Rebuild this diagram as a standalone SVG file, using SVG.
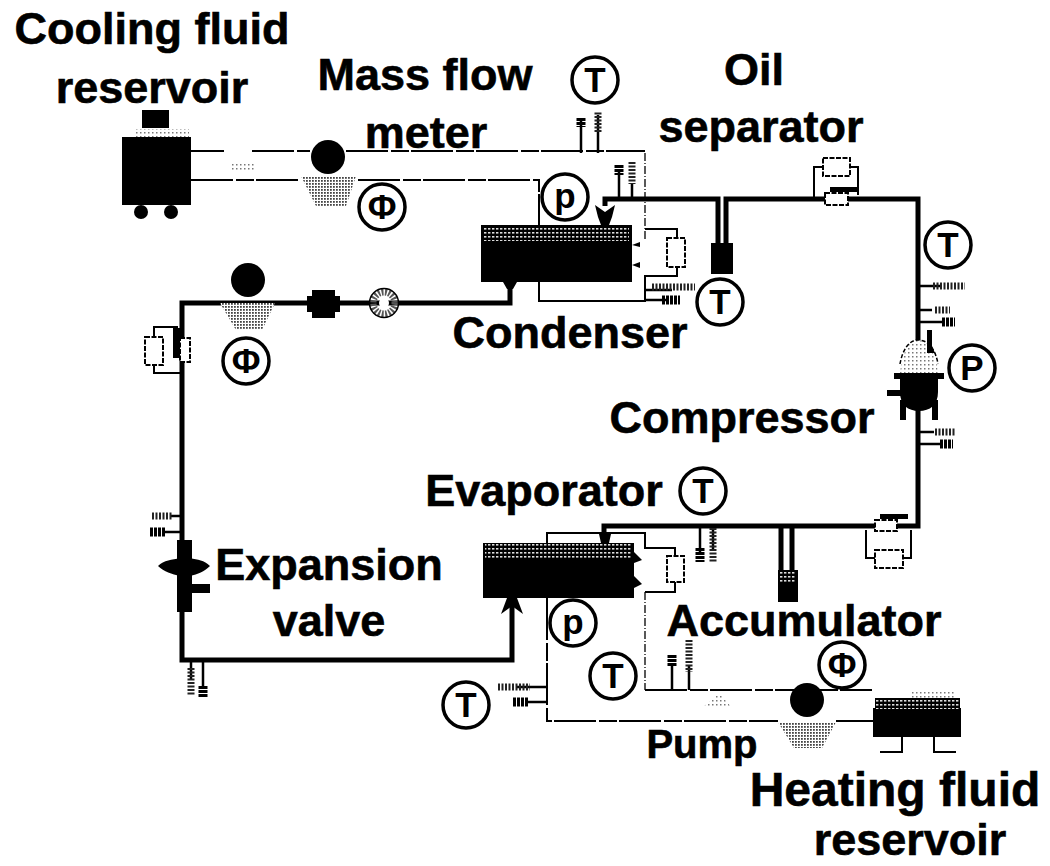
<svg xmlns="http://www.w3.org/2000/svg" width="1050" height="866" viewBox="0 0 1050 866">
<style>
text{font-family:"Liberation Sans",Arial,sans-serif;font-weight:bold;fill:#000;text-anchor:middle}
.l{font-size:45px;stroke:#000;stroke-width:.6px}
.g{font-size:35px}
.r{fill:#fff;stroke:#000;stroke-width:3.5}
.k{fill:#000}
.h{fill:url(#dots)}
.thick{fill:none;stroke:#000;stroke-width:5}
.thin{fill:none;stroke:#000;stroke-width:2}
.dash{fill:none;stroke:#000;stroke-width:2;stroke-dasharray:42 3 18 2}
.faint{fill:none;stroke:#000;stroke-width:1.3;stroke-dasharray:8 2 1 2}
.sd{fill:none;stroke:#222;stroke-width:7;stroke-dasharray:2 1.5}
.bl{fill:none;stroke:#000;stroke-width:9;stroke-dasharray:3 1}
.box{fill:#fff;stroke:#000;stroke-width:2;stroke-dasharray:5 1.5}
.sen{stroke:#000;stroke-width:2.5;fill:none}
</style>
<defs>
<pattern id="dots" width="3" height="3" patternUnits="userSpaceOnUse"><rect width="3" height="3" fill="#fff"/><rect width="1.8" height="1.8" fill="#444"/></pattern>
<pattern id="dots2" width="4" height="4" patternUnits="userSpaceOnUse"><rect width="4" height="4" fill="#fff"/><rect width="1.5" height="1.5" fill="#777"/></pattern>
<pattern id="top" width="4" height="4" patternUnits="userSpaceOnUse"><rect width="4" height="4" fill="#000"/><rect width="2.4" height="1.6" fill="#ddd"/></pattern>
</defs>
<g id="connectors">
<path class="dash" d="M191 151H224M252 151H310M346 151H645"/>
<path class="dash" d="M191 180H300M358 180H539V225"/>
<path class="faint" d="M645 153V240"/>
<path class="thin" d="M645 229H677V238M677 267V276H645V301H539V282"/>
<path class="thick" d="M605 206V199H718V243M726 243V199H918V340M918 410V526H604V536"/>
<path class="thick" d="M510 283V303H182V660H512V604"/>
<path class="thin" d="M547 543V533H645V548H675V556M675 582V592H645"/>
<path class="faint" d="M645 592V690"/>
<path class="dash" d="M645 690H872"/>
<path class="dash" d="M547 598V721H778M836 721H875"/>
<path class="thin" d="M154 337V327H178M154 365V373H184"/>
<path class="thin" d="M823 167H814V198M850 167H858V195"/>
<path class="thin" d="M866 530V558H875M903 558H911V530"/>
<path class="thick" d="M781 526V572M792 526V572"/>
<g id="sensors">
<path class="sen" d="M581 153V118M598 153V115M619 198V172M632 198V184M645 290H672M645 300H668M919 286H940M919 310H932M919 322H942M919 432H934M919 444H940M183 516H170M183 532H165M191 662V680M203 662V688M700 526V552M713 526V550M672 690V665M689 690V665M547 687H516M547 702H525"/>
<path class="sd" d="M598 132V112M632 162V184M652 287H695M933 286H965M935 310H950M935 432H955M152 516H172M191 668V695M713 528V562M689 640V672M498 687H530"/>
<path class="bl" d="M581 118V127M619 165V175M662 300H680M942 322H955M940 444H953M150 532H165M203 686V697M700 548V562M672 655V667M513 702H528"/>
</g>
</g>
<g id="cooling-reservoir">
<rect class="k" x="122" y="137" width="69" height="68"/><rect class="k" x="142" y="110" width="27" height="18"/>
<rect fill="url(#dots2)" x="136" y="129" width="53" height="8"/>
<circle class="k" cx="141" cy="212" r="7"/><circle class="k" cx="171" cy="212" r="7"/>
</g>
<g id="cooling-pump"><path class="h" d="M301 176H356L346 206H316Z"/><circle class="k" cx="328" cy="157" r="17"/></g>
<path id="fade-top" fill="url(#dots2)" d="M232 163H256V170H232Z"/>
<g id="phi1"><circle class="r" cx="382" cy="207" r="23"/><text class="g" x="382" y="219">Φ</text></g>
<g id="t1"><circle class="r" cx="595" cy="80" r="23"/><text class="g" x="595" y="92">T</text></g>
<g id="p1"><circle class="r" cx="565" cy="197" r="23"/><text class="g" x="565" y="208">p</text></g>
<g id="condenser">
<rect class="k" x="481" y="225" width="151" height="57"/>
<rect fill="url(#top)" x="484" y="226" width="145" height="15"/>
<path class="k" d="M595 205L605 212L615 205L612 217L609 225H601L598 217Z"/>
<path class="k" d="M632 245l8-3v5zM632 265l8 3v-6zM503 282h14l-4 7h-6z"/>
<rect class="box" x="667" y="238" width="18" height="29"/>
</g>
<g id="separator"><rect class="k" x="711" y="243" width="22" height="31"/></g>
<g id="t2"><circle class="r" cx="720" cy="302" r="23"/><text class="g" x="720" y="314">T</text></g>
<g id="oil-valve">
<rect class="k" x="830" y="187" width="28" height="5"/>
<rect class="box" x="825" y="193" width="23" height="12"/>
<rect class="box" x="823" y="158" width="27" height="18"/>
</g>
<g id="t3"><circle class="r" cx="948" cy="245" r="23"/><text class="g" x="948" y="257">T</text></g>
<g id="p2"><circle class="r" cx="972" cy="368" r="23"/><text class="g" x="972" y="380">P</text></g>
<g id="compressor">
<path fill="url(#dots2)" d="M900 373C902 355 908 340 918 340C930 340 936 355 938 373Z"/>
<path fill="none" stroke="#000" stroke-width="1.5" stroke-dasharray="4 2" d="M900 364C902 352 908 340 918 340C930 340 936 352 938 364"/>
<path class="k" d="M894 373H944V379H938V392C938 405 930 411 919 411C908 411 900 405 900 392V379H894Z"/>
<rect class="k" x="887" y="390" width="16" height="6"/><rect class="k" x="900" y="400" width="6" height="20"/><rect class="k" x="932" y="400" width="6" height="20"/>
<path class="k" d="M927 330h5v16l3 7h-8z"/>
</g>
<g id="pump-left"><path class="h" d="M220 303H275L262 330H236Z"/><circle class="k" cx="248" cy="280" r="17"/></g>
<g id="phi2"><circle class="r" cx="246" cy="361" r="23"/><text class="g" x="246" y="373">Φ</text></g>
<g id="filter"><path class="k" d="M312 290H335V296H340V312H335V318H312V312H307V296H312Z"/></g>
<g id="sight-glass"><circle cx="384" cy="303" r="11" fill="none" stroke="#555" stroke-width="7" stroke-dasharray="2 1.5"/><circle cx="384" cy="303" r="14.5" fill="none" stroke="#000" stroke-width="1.5"/><circle cx="384" cy="303" r="5" fill="#fff"/></g>
<g id="left-valve">
<rect class="k" x="173" y="328" width="8" height="30"/>
<rect class="box" x="180" y="338" width="10" height="24"/>
<rect class="box" x="145" y="337" width="18" height="28"/>
</g>
<g id="expansion-valve">
<rect class="k" x="177" y="540" width="15" height="72"/>
<path class="k" d="M158 566C164 560 172 560 180 558H190C198 560 204 560 210 566C204 572 198 574 190 576H180C172 574 164 572 158 566Z"/>
<path class="k" d="M190 584H210V593H190Z"/>
</g>
<g id="evaporator">
<rect class="k" x="483" y="543" width="151" height="55"/>
<rect fill="url(#top)" x="485" y="544" width="146" height="15"/>
<path class="k" d="M599 534h12l-2 9h-8zM507 598h10l6 16-11-8-11 8zM634 552l8 8-8 3zM634 576l8 8-8 4z"/>
<rect class="box" x="667" y="556" width="17" height="26"/>
</g>
<g id="suction-valve">
<rect class="k" x="880" y="514" width="28" height="5"/>
<rect class="box" x="875" y="520" width="22" height="11"/>
<rect class="box" x="875" y="550" width="28" height="18"/>
</g>
<g id="accumulator"><rect class="k" x="778" y="570" width="20" height="32"/><rect fill="url(#top)" x="780" y="572" width="16" height="12"/></g>
<g id="t4"><circle class="r" cx="703" cy="491" r="23"/><text class="g" x="703" y="503">T</text></g>
<g id="p3"><circle class="r" cx="573" cy="623" r="23"/><text class="g" x="573" y="634">p</text></g>
<g id="t5"><circle class="r" cx="613" cy="676" r="23"/><text class="g" x="613" y="688">T</text></g>
<g id="t6"><circle class="r" cx="466" cy="705" r="23"/><text class="g" x="466" y="717">T</text></g>
<g id="phi3"><circle class="r" cx="842" cy="665" r="23"/><text class="g" x="842" y="677">Φ</text></g>
<g id="heating-pump"><path class="h" d="M778 722H836L822 748H794Z"/><circle class="k" cx="807" cy="700" r="17"/></g>
<path id="fade-bottom" fill="url(#dots2)" d="M716 696L722 696L732 708H702Z"/>
<g id="heating-reservoir">
<rect fill="url(#dots2)" x="910" y="690" width="46" height="10"/>
<rect class="k" x="873" y="708" width="88" height="29"/>
<rect fill="url(#top)" x="875" y="698" width="85" height="11"/>
<path class="thin" d="M902 737V752H880M934 737V752H956"/>
</g>
<g id="labels">
<text class="l" x="152" y="44">Cooling fluid</text>
<text class="l" x="152" y="103">reservoir</text>
<text class="l" x="425" y="90">Mass flow</text>
<text class="l" x="426" y="148">meter</text>
<text class="l" x="754" y="85">Oil</text>
<text class="l" x="761" y="142">separator</text>
<text class="l" x="570" y="348">Condenser</text>
<text class="l" x="742" y="433">Compressor</text>
<text class="l" x="544" y="506">Evaporator</text>
<text class="l" x="329" y="580">Expansion</text>
<text class="l" x="329" y="636">valve</text>
<text class="l" x="804" y="636">Accumulator</text>
<text class="l" x="702" y="758" style="font-size:40px">Pump</text>
<text class="l" x="895" y="806" style="font-size:48px">Heating fluid</text>
<text class="l" x="910" y="855">reservoir</text>
</g>
</svg>
